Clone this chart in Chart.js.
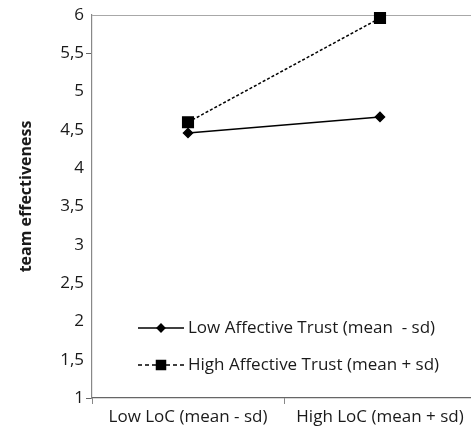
<!DOCTYPE html>
<html>
<head>
<meta charset="utf-8">
<script src="https://cdn.jsdelivr.net/npm/chart.js@4/dist/chart.umd.min.js"></script>
<style>
  html, body { margin: 0; padding: 0; background: #fff; overflow: hidden; }
  #wrap { width: 485px; height: 440px; }
</style>
</head>
<body>
<div id="wrap"><canvas id="chart" width="485" height="440"></canvas></div>
<script>
// data
const categories = ['Low LoC (mean - sd)', 'High LoC (mean + sd)'];
const seriesNames = ['Low Affective Trust (mean  - sd)', 'High Affective Trust (mean + sd)'];
const lowTrust = [4.46, 4.67];
const highTrust = [4.60, 5.96];
const yMin = 1;
const yMax = 6;
const yStep = 0.5;
const yTitle = 'team effectiveness';

const FONT = "'Open Sans', 'Liberation Sans', sans-serif";
const TEXT = '#1a1a1a';

// legend drawn inside the plot area, lower left
const innerLegend = {
  id: 'innerLegend',
  afterDatasetsDraw(chart) {
    const ctx = chart.ctx;
    const area = chart.chartArea;
    const x0 = area.left + 46;
    const rows = [area.bottom - 70, area.bottom - 33];
    chart.data.datasets.forEach((ds, i) => {
      const y = rows[i];
      ctx.save();
      ctx.strokeStyle = ds.borderColor;
      ctx.lineWidth = 1.3;
      ctx.setLineDash(ds.borderDash ? [4, 3] : []);
      ctx.beginPath();
      ctx.moveTo(x0, y);
      ctx.lineTo(x0 + 46, y);
      ctx.stroke();
      ctx.setLineDash([]);
      Chart.helpers.drawPoint(ctx, {
        pointStyle: ds.pointStyle,
        radius: ds.legendRadius,
        borderWidth: 1
      }, x0 + 23, y);
      ctx.fillStyle = ds.backgroundColor;
      ctx.fill();
      ctx.fillStyle = TEXT;
      ctx.font = '17px ' + FONT;
      ctx.textBaseline = 'middle';
      ctx.textAlign = 'left';
      ctx.fillText(ds.label, x0 + 50, y);
      ctx.restore();
    });
  }
};

// y axis title, sits a little above the middle of the axis like the original
const yAxisTitle = {
  id: 'yAxisTitle',
  afterDraw(chart) {
    const ctx = chart.ctx;
    const area = chart.chartArea;
    ctx.save();
    ctx.translate(26, (area.top + area.bottom) / 2 - 10);
    ctx.rotate(-Math.PI / 2);
    ctx.fillStyle = TEXT;
    ctx.font = 'bold 16px ' + FONT;
    ctx.textAlign = 'center';
    ctx.textBaseline = 'middle';
    ctx.fillText(yTitle, 0, 0);
    ctx.restore();
  }
};

new Chart(document.getElementById('chart'), {
  type: 'line',
  data: {
    labels: categories,
    datasets: [
      {
        label: seriesNames[0],
        data: lowTrust,
        borderColor: '#000',
        backgroundColor: '#000',
        borderWidth: 1.5,
        pointStyle: 'rectRot',
        pointRadius: 4.5,
        legendRadius: 4,
        tension: 0,
        clip: false
      },
      {
        label: seriesNames[1],
        data: highTrust,
        borderColor: '#000',
        backgroundColor: '#000',
        borderWidth: 1.5,
        borderDash: [3, 2],
        pointStyle: 'rect',
        pointRadius: 7.5,
        legendRadius: 6.5,
        tension: 0,
        clip: false
      }
    ]
  },
  options: {
    responsive: false,
    devicePixelRatio: 1,
    animation: false,
    layout: { padding: { top: 15, right: 4, left: 0, bottom: 0 } },
    plugins: {
      legend: { display: false },
      tooltip: { enabled: false }
    },
    scales: {
      x: {
        type: 'category',
        offset: true,
        grid: {
          offset: true,
          drawOnChartArea: false,
          tickLength: 6,
          tickColor: '#888'
        },
        border: { color: '#666', width: 1.2 },
        ticks: {
          color: TEXT,
          padding: 3,
          font: { family: FONT, size: 17 }
        },
        afterFit: function(scale) { scale.height = 42; }
      },
      y: {
        min: yMin,
        max: yMax,
        grid: {
          color: ctx => (ctx.tick && ctx.tick.value === yMax) ? '#a8a8a8' : 'rgba(0,0,0,0)',
          tickLength: 6,
          // only a couple of tick marks survive in the original scan
          tickColor: ctx => (ctx.tick && (ctx.tick.value === 5.5 || ctx.tick.value === yMin)) ? '#666' : 'rgba(0,0,0,0)'
        },
        border: { color: '#888', width: 1.2 },
        ticks: {
          stepSize: yStep,
          color: TEXT,
          padding: 2,
          font: { family: FONT, size: 17 },
          callback: v => String(v).replace('.', ',')
        },
        afterFit: function(scale) { scale.width = 92; }
      }
    }
  },
  plugins: [innerLegend, yAxisTitle]
});
</script>
</body>
</html>
